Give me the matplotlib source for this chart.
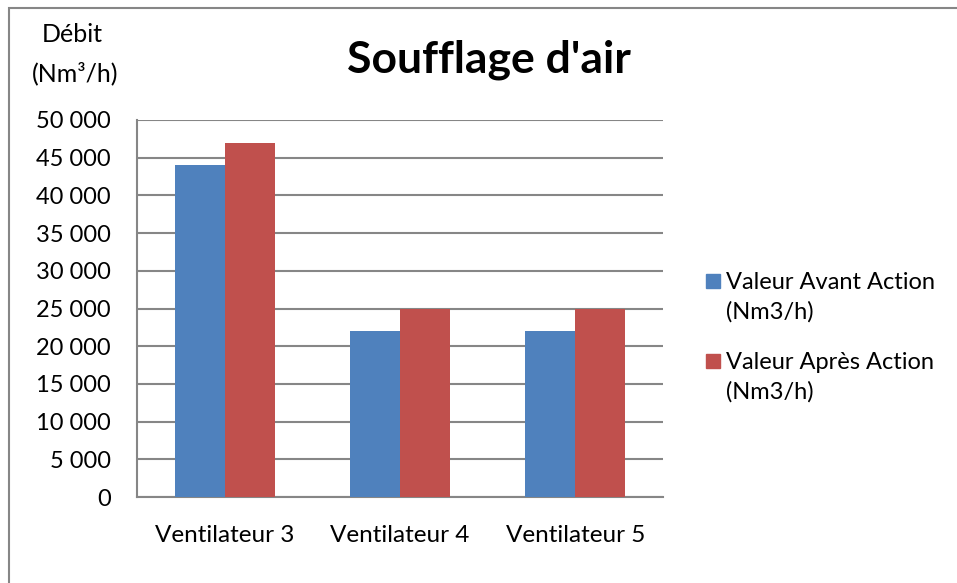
import numpy as np
import matplotlib.pyplot as plt
from matplotlib.patches import Rectangle
from matplotlib.ticker import FuncFormatter

categories = ['Ventilateur 3', 'Ventilateur 4', 'Ventilateur 5']
avant = [44000, 22000, 22000]
apres = [47000, 25000, 25000]
series_names = ['Valeur Avant Action\n(Nm3/h)', 'Valeur Après Action\n(Nm3/h)']

BLUE = '#4F81BD'
RED = '#C0504D'
GRID = '#868686'

plt.rcParams['font.family'] = ['Lato', 'DejaVu Sans']


def fmt_thousands(v, pos):
    return f'{int(v):,}'.replace(',', ' ')


def main():
    W, H = 957, 583
    fig = plt.figure(figsize=(W / 100, H / 100), dpi=100)

    # cadre du graphique (coupé à droite et en bas)
    fig.patches.append(Rectangle((9 / W, -0.1), 1.2, 1 - 8 / H + 0.1,
                                 transform=fig.transFigure, fill=False,
                                 edgecolor=GRID, linewidth=1.5))

    ax = fig.add_axes([137 / W, 1 - 497 / H, (663 - 137) / W, (497 - 120) / H])
    x = np.arange(len(categories))
    w = 50 / 175
    ax.bar(x - w / 2, avant, w, color=BLUE, zorder=3)
    ax.bar(x + w / 2, apres, w, color=RED, zorder=3)

    ax.set_xlim(-0.5, len(categories) - 0.5)
    ax.set_ylim(0, 50000)
    ax.set_yticks(np.arange(0, 50001, 5000))
    ax.yaxis.set_major_formatter(FuncFormatter(fmt_thousands))
    ax.set_xticks(x)
    ax.set_xticklabels(categories)
    ax.tick_params(axis='both', length=0, colors='black')
    ax.tick_params(axis='y', pad=19, labelsize=17)
    ax.tick_params(axis='x', pad=20, labelsize=17.5)
    ax.yaxis.grid(True, color=GRID, linewidth=1.5, zorder=0)
    for s in ['top', 'right']:
        ax.spines[s].set_visible(False)
    for s in ['left', 'bottom']:
        ax.spines[s].set_color(GRID)
        ax.spines[s].set_linewidth(1.5)

    fig.text(489 / W, 1 - 60 / H, "Soufflage d'air", ha='center', va='center',
             fontsize=32, fontweight='bold')
    fig.text(72 / W, 1 - 35 / H, 'Débit', ha='center', va='center', fontsize=18)
    fig.text(75 / W, 1 - 73 / H, '(Nm³/h)', ha='center', va='center', fontsize=18)

    # légende
    for i, (name, col) in enumerate(zip(series_names, [BLUE, RED])):
        y0 = 281 + i * 80
        fig.patches.append(Rectangle((706 / W, 1 - (y0 + 7) / H), 14 / W, 14 / H,
                                     transform=fig.transFigure, color=col))
        fig.text(726 / W, 1 - (y0 - 9) / H, name, ha='left', va='top',
                 fontsize=17, linespacing=1.45)

    fig.savefig('out.png', dpi=100)


if __name__ == "__main__":
    main()
